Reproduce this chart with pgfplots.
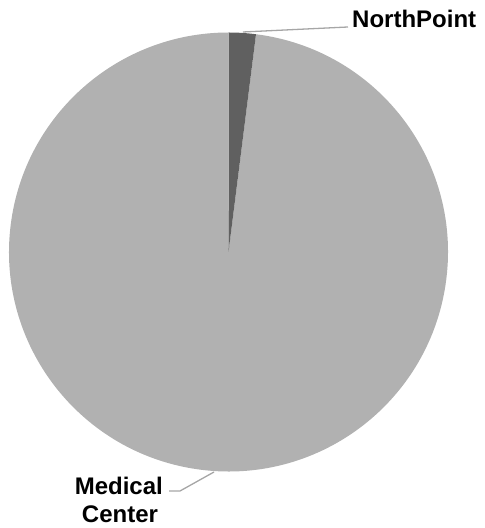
\documentclass[border=0pt]{standalone}
\usepackage{pgfplots}
\pgfplotsset{compat=1.18}
\usepackage{pgfplotstable}
\usepackage{fontspec}
\setmainfont{Liberation Sans}
\definecolor{npcol}{HTML}{606060}
\definecolor{mccol}{HTML}{B1B1B1}
\definecolor{leader}{HTML}{A6A6A6}
\pgfplotstableread{
name value
NorthPoint 2
MedicalCenter 98
}\piedata
\begin{document}
\begin{tikzpicture}
\pgfplotstablegetelem{0}{value}\of\piedata \let\vnp\pgfplotsretval
\pgfplotstablegetelem{1}{value}\of\piedata \let\vmc\pgfplotsretval
\pgfmathsetmacro{\tot}{\vnp+\vmc}
\pgfmathsetmacro{\fnp}{\vnp/\tot}
\pgfmathsetmacro{\fmc}{\vmc/\tot}
\pgfmathsetmacro{\anp}{90-360*\fnp}
\pgfmathsetmacro{\amc}{\anp-360*\fmc}
\begin{axis}[
  width=485bp, height=528bp, scale only axis,
  xmin=0, xmax=485, ymin=0, ymax=528,
  enlargelimits=false,
  hide axis, clip=false,
]
% Medical Center slice
\fill[mccol] (axis cs:228.5,276) -- ++(\anp:219.5bp) arc[start angle=\anp, end angle=\amc, radius=219.5bp] -- cycle;
% NorthPoint slice
\fill[npcol] (axis cs:228.5,276) -- ++(90:219.5bp) arc[start angle=90, end angle=\anp, radius=219.5bp] -- cycle;
% leaders
\draw[leader, line width=1.3bp] (axis cs:243,496) -- (axis cs:348,501);
\draw[leader, line width=1.3bp] (axis cs:214,56) -- (axis cs:180,37) -- (axis cs:169,37);
% labels
\node[anchor=base west, inner sep=0pt, font=\fontsize{24bp}{28bp}\selectfont\bfseries] at (axis cs:352,500) {NorthPoint};
\node[anchor=base east, inner sep=0pt, font=\fontsize{24bp}{28bp}\selectfont\bfseries] at (axis cs:163,33) {Medical};
\node[anchor=base, inner sep=0pt, font=\fontsize{24bp}{28bp}\selectfont\bfseries] at (axis cs:120,6) {Center};
\end{axis}
\pgfresetboundingbox
\path[use as bounding box] (current axis.south west) rectangle (current axis.north east);
\end{tikzpicture}
\end{document}
